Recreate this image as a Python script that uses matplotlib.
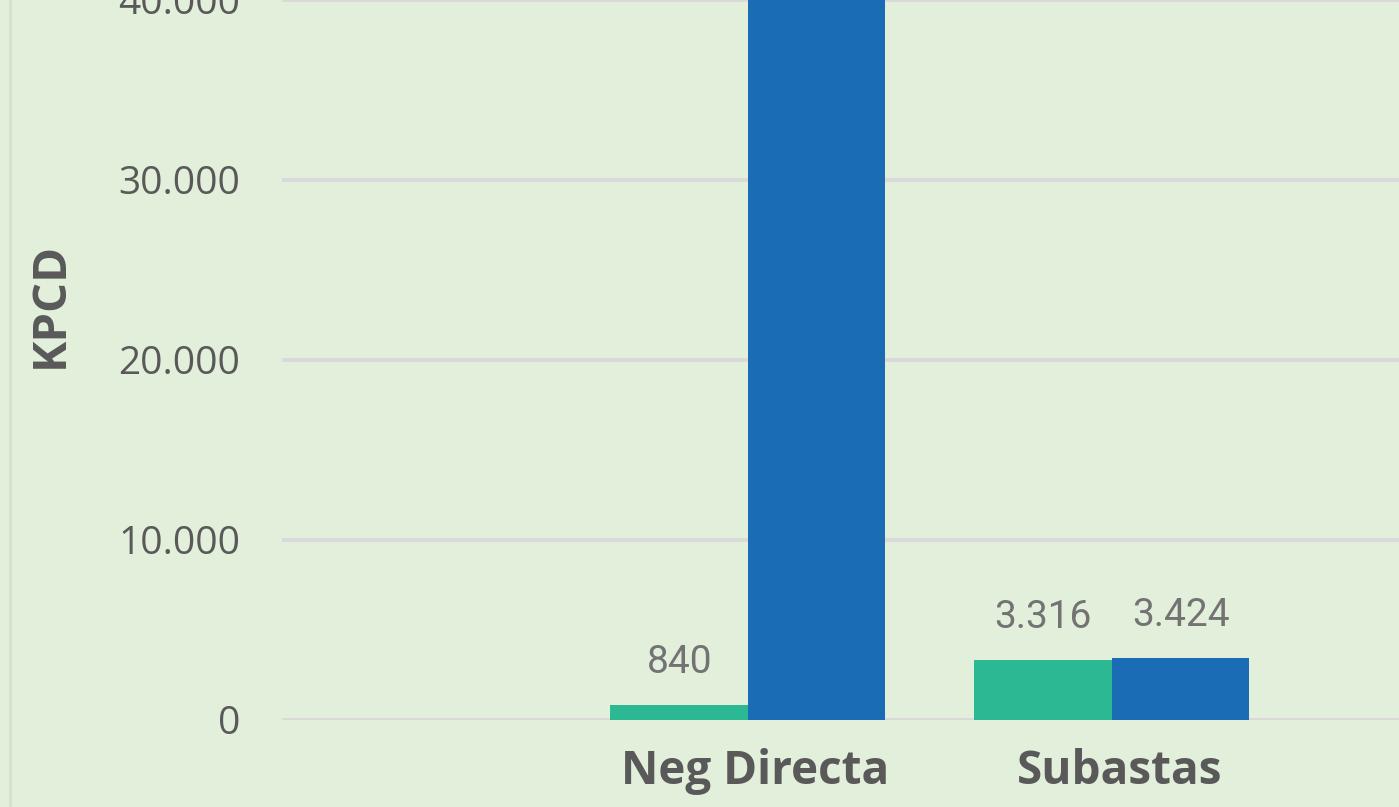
import matplotlib
matplotlib.use("Agg")
import matplotlib.pyplot as plt
import numpy as np
from matplotlib.lines import Line2D

categories = ["Neg Directa", "Subastas"]
series_a = [840, 3316]      # green
series_b = [48000, 3424]    # blue (first value exceeds visible area)
y_ticks = [0, 10000, 20000, 30000, 40000]
y_tick_labels = ["0", "10.000", "20.000", "30.000", "40.000"]
y_label = "KPCD"

BG = "#E2EFDA"
GREEN = "#2BB893"
BLUE = "#1A6CB5"
TXT = "#595959"
LBL = "#737373"

W, H = 1399, 807
fig = plt.figure(figsize=(W / 100, H / 100), dpi=100, facecolor=BG)

# axes geometry in pixels
ax_left_px = 282
ax_bottom_px = 720   # y pixel of value 0 (from top)
ymax = 45000
px_per_unit_y = 180 / 10000
ax_height_px = ymax * px_per_unit_y
ax = fig.add_axes([ax_left_px / W, (H - ax_bottom_px) / H,
                   (W - ax_left_px) / W, ax_height_px / H])
ax.set_facecolor(BG)

x = np.arange(1, len(categories) + 1)
cat_px = 364.0
bw = 137.5 / cat_px
xmin = 1 - (748 - ax_left_px) / cat_px
xmax = xmin + (W - ax_left_px) / cat_px
ax.set_xlim(xmin, xmax)
ax.set_ylim(0, ymax)

ax.bar(x - bw / 2, series_a, width=bw, color=GREEN, zorder=3)
ax.bar(x + bw / 2, series_b, width=bw, color=BLUE, zorder=3)

for xi, v in zip(x, series_a):
    ax.annotate(f"{v:,}".replace(",", "."), (xi - bw / 2, v), xytext=(0, 23),
                textcoords="offset points", ha="center", va="baseline",
                fontsize=28, color=LBL, family="Roboto")
for xi, v in zip(x, series_b):
    ax.annotate(f"{v:,}".replace(",", "."), (xi + bw / 2, v), xytext=(0, 23),
                textcoords="offset points", ha="center", va="baseline",
                fontsize=28, color=LBL, family="Roboto", clip_on=True,
                annotation_clip=True)

ax.set_yticks(y_ticks)
ax.set_yticklabels(y_tick_labels, fontsize=28, color=TXT, family="Open Sans")
ax.set_xticks(x + 0.02)
ax.set_xticklabels(categories, fontsize=33, color=TXT, family="Open Sans",
                   fontweight="bold")
ax.tick_params(axis="y", length=0, pad=30)
ax.tick_params(axis="x", length=0, pad=20)
ax.yaxis.grid(True, color="#D9D9D9", linewidth=2.8, zorder=0)
ax.set_axisbelow(True)
for s in ax.spines.values():
    s.set_visible(False)

fig.text(50 / W, 1 - 305 / H, y_label, rotation=90, ha="center", va="center",
         fontsize=34, fontweight="bold", color=TXT, family="Open Sans")

fig.add_artist(Line2D([9.5 / W, 9.5 / W], [0, 1], transform=fig.transFigure,
                      color="#D6DFCF", linewidth=2))

fig.savefig("out.png", dpi=100, facecolor=BG)
